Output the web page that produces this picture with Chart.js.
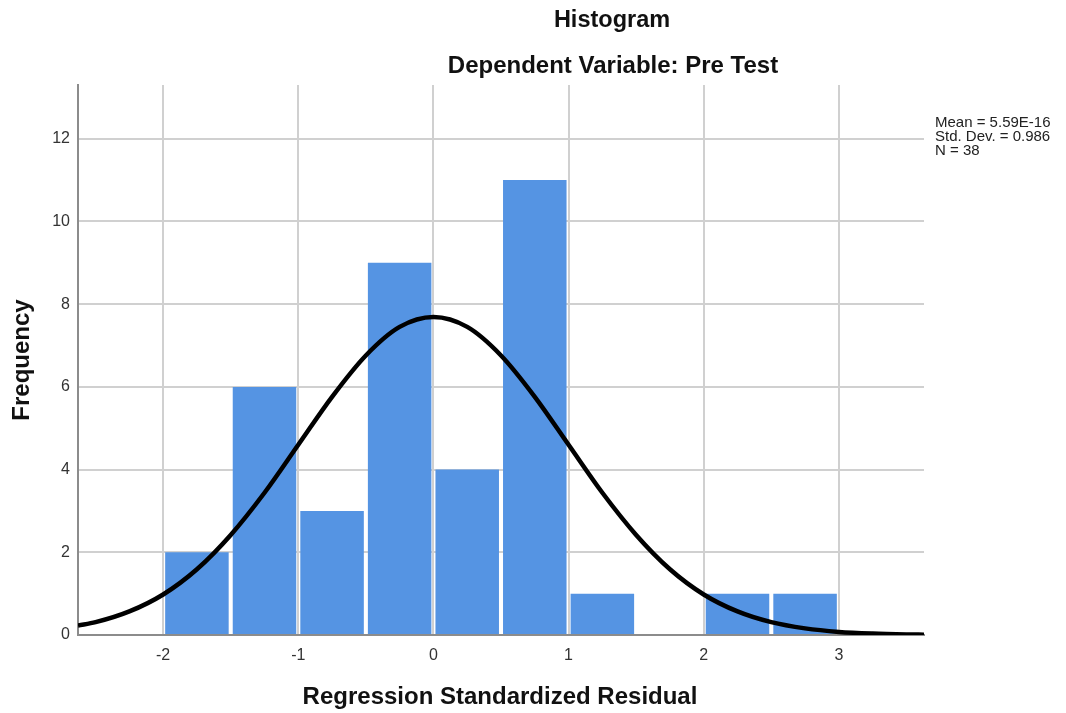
<!DOCTYPE html>
<html>
<head>
<meta charset="utf-8">
<script src="https://cdn.jsdelivr.net/npm/chart.js@4.4.1/dist/chart.umd.min.js"></script>
<style>
  html, body { margin: 0; padding: 0; background: #fff; }
  #wrap { width: 1066px; height: 713px; position: relative; }
</style>
</head>
<body>
<div id="wrap"><canvas id="c" width="1066" height="713"></canvas></div>
<script>
// Histogram bins (centers) and frequencies
const binCenters = [-1.75, -1.25, -0.75, -0.25, 0.25, 0.75, 1.25, 1.75, 2.25, 2.75];
const frequencies = [2, 6, 3, 9, 4, 11, 1, 0, 1, 1];

// Normal curve points
const curveX = [-2.63, -2.5, -2.25, -2, -1.75, -1.5, -1.25, -1, -0.75, -0.5, -0.25, 0, 0.25, 0.5, 0.75, 1, 1.25, 1.5, 1.75, 2, 2.25, 2.5, 2.75, 3, 3.25, 3.5, 3.63];
const curveY = [0.23, 0.31, 0.57, 0.98, 1.59, 2.42, 3.44, 4.60, 5.76, 6.76, 7.45, 7.69, 7.45, 6.76, 5.76, 4.60, 3.44, 2.42, 1.59, 0.98, 0.57, 0.31, 0.16, 0.075, 0.034, 0.014, 0.009];

// Texts
const chartTitle = "Histogram";
const chartSubtitle = "Dependent Variable: Pre Test";
const xTitle = "Regression Standardized Residual";
const yTitle = "Frequency";
const statsLines = ["Mean = 5.59E-16", "Std. Dev. = 0.986", "N = 38"];

const FONT = "'Liberation Sans', Arial, Helvetica, sans-serif";

const textPlugin = {
  id: 'texts',
  afterDraw(chart) {
    const ctx = chart.ctx;
    ctx.save();
    ctx.fillStyle = '#111';
    ctx.textAlign = 'center';
    ctx.textBaseline = 'middle';
    ctx.font = "bold 23.5px " + FONT;
    ctx.fillText(chartTitle, 612, 21);
    ctx.font = "bold 24px " + FONT;
    ctx.fillText(chartSubtitle, 613, 66);
    ctx.fillText(xTitle, 500, 697);
    ctx.save();
    ctx.translate(22, 360);
    ctx.rotate(-Math.PI / 2);
    ctx.fillText(yTitle, 0, 0);
    ctx.restore();
    ctx.textAlign = 'left';
    ctx.font = "15px " + FONT;
    ctx.fillStyle = '#222';
    statsLines.forEach((s, i) => ctx.fillText(s, 935, 123 + i * 14));
    ctx.restore();
  }
};

new Chart(document.getElementById('c'), {
  type: 'bar',
  data: {
    datasets: [
      {
        type: 'line',
        data: curveX.map((x, i) => ({ x: x, y: curveY[i] })),
        borderColor: '#000',
        borderWidth: 4.5,
        pointRadius: 0,
        fill: false,
        cubicInterpolationMode: 'monotone',
        order: 0
      },
      {
        type: 'bar',
        data: binCenters.map((x, i) => ({ x: x, y: frequencies[i] })),
        backgroundColor: '#5594E3',
        borderWidth: 0,
        barPercentage: 0.94,
        categoryPercentage: 1.0,
        order: 1
      }
    ]
  },
  options: {
    responsive: false,
    animation: false,
    layout: { padding: { top: 85, right: 142, left: 0, bottom: 0 } },
    plugins: { legend: { display: false }, tooltip: { enabled: false }, title: { display: false } },
    scales: {
      x: {
        type: 'linear',
        min: -2.63,
        max: 3.63,
        offset: false,
        grid: { offset: false, color: '#d0d0d0', lineWidth: 2, drawTicks: false },
        border: { color: '#8c8c8c', width: 2 },
        ticks: { stepSize: 1, includeBounds: false, padding: 11, color: '#333', font: { family: FONT, size: 16 } },
        afterFit(scale) { scale.height = 78; }
      },
      y: {
        type: 'linear',
        min: 0,
        max: 13.3,
        grid: { color: '#d0d0d0', lineWidth: 2, drawTicks: false },
        border: { color: '#8c8c8c', width: 2 },
        ticks: { stepSize: 2, includeBounds: false, padding: 8, color: '#333', font: { family: FONT, size: 16 } },
        afterFit(scale) { scale.width = 78; }
      }
    }
  },
  plugins: [textPlugin]
});
</script>
</body>
</html>
